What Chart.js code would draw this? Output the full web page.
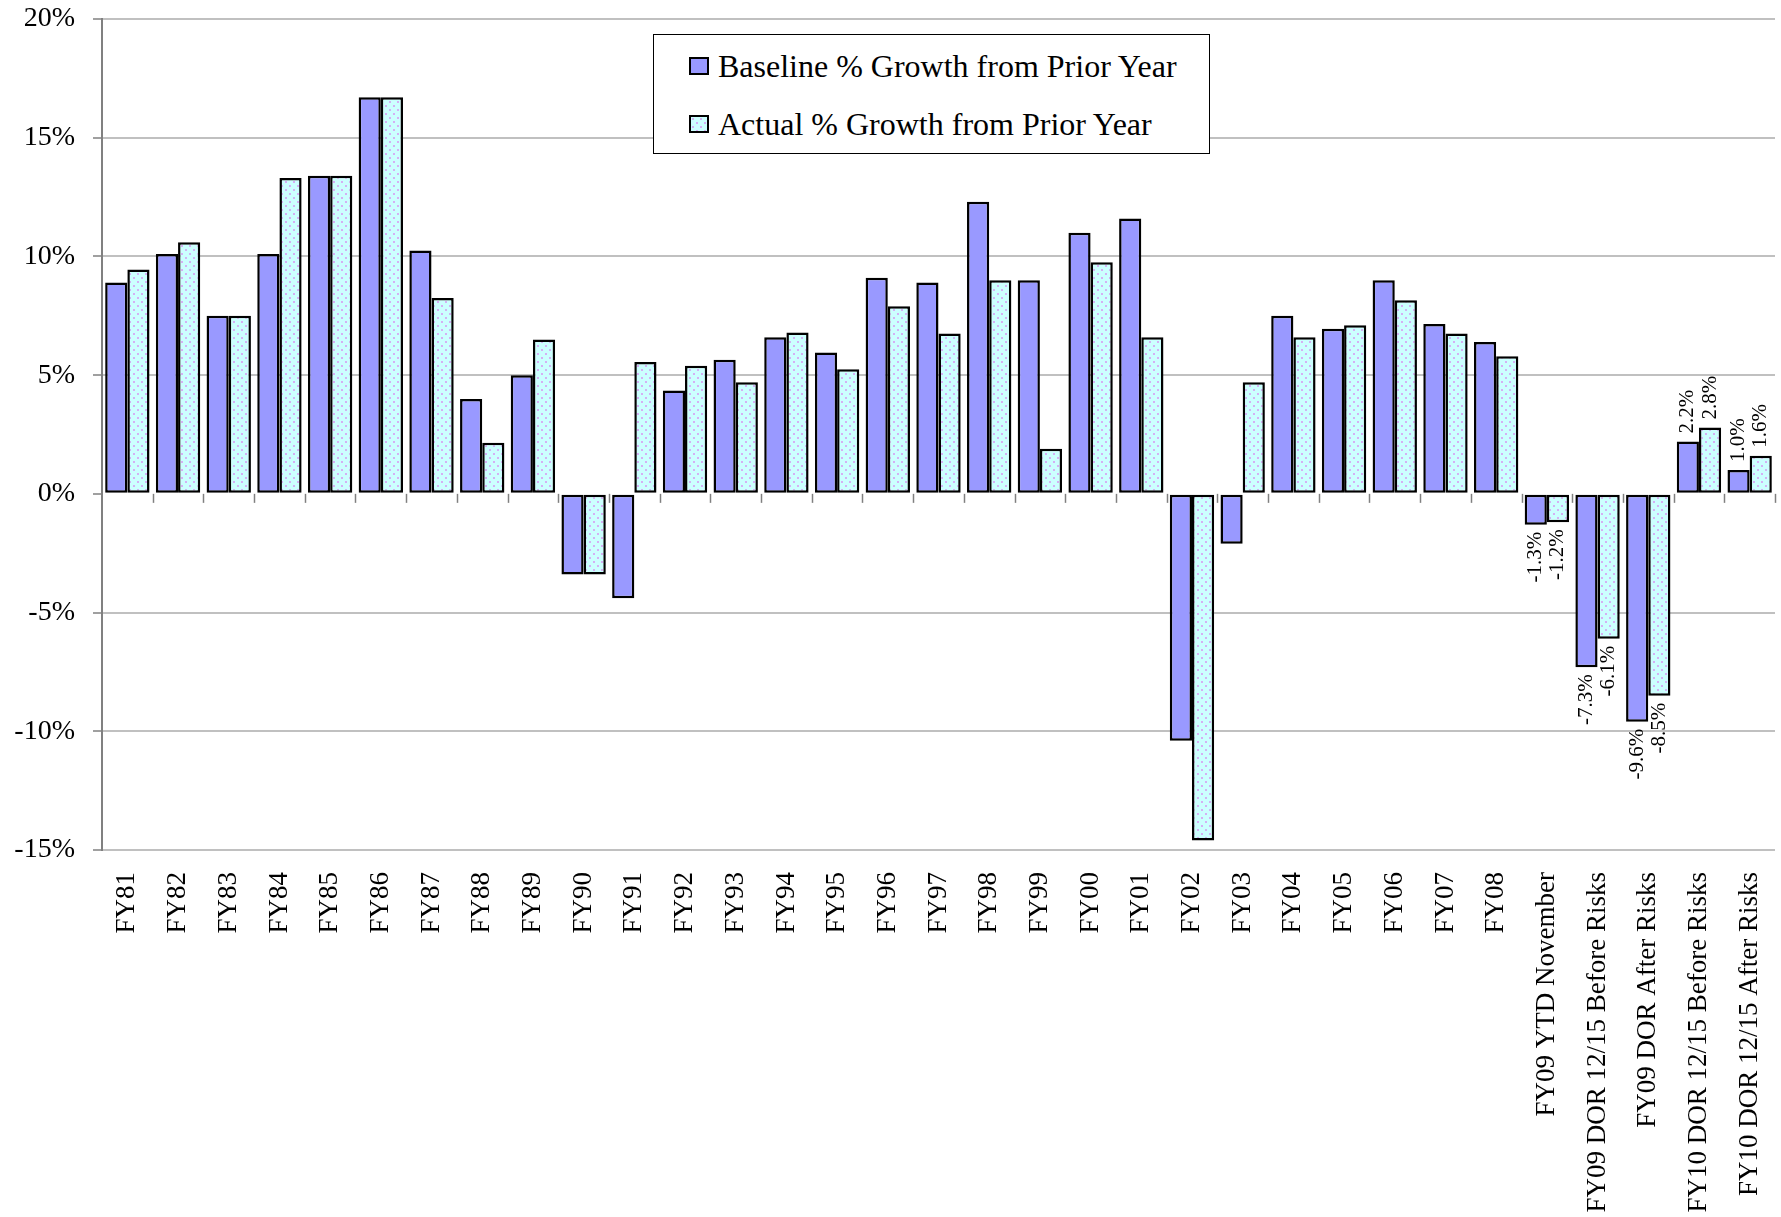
<!DOCTYPE html>
<html>
<head>
<meta charset="utf-8">
<script src="https://cdn.jsdelivr.net/npm/chart.js@4/dist/chart.umd.min.js"></script>
<style>
html,body{margin:0;padding:0;background:#fff;}
#wrap{position:relative;width:1781px;height:1217px;}
#legend{position:absolute;left:653px;top:34px;width:555px;height:118px;border:1px solid #000;background:#fff;font-family:"Liberation Serif","Times New Roman",serif;font-size:32px;color:#000;}
.item{position:absolute;left:35px;height:36px;line-height:36px;display:flex;align-items:center;white-space:nowrap;}
.sw{width:16px;height:14px;border:2px solid #000;margin-right:9px;box-sizing:content-box;}
</style>
</head>
<body>
<div id="wrap">
<canvas id="c" width="1781" height="1217"></canvas>
<div id="legend"></div>
</div>
<script>
const categories = ['FY81','FY82','FY83','FY84','FY85','FY86','FY87','FY88','FY89','FY90','FY91','FY92','FY93','FY94','FY95','FY96','FY97','FY98','FY99','FY00','FY01','FY02','FY03','FY04','FY05','FY06','FY07','FY08','FY09 YTD November','FY09 DOR 12/15 Before Risks','FY09 DOR After Risks','FY10 DOR 12/15 Before Risks','FY10 DOR 12/15 After Risks'];
const baselineGrowth = [8.9,10.1,7.5,10.1,13.4,16.7,10.25,4.0,5.0,-3.4,-4.4,4.35,5.65,6.6,5.95,9.1,8.9,12.3,9.0,11.0,11.6,-10.4,-2.1,7.5,6.95,9.0,7.15,6.4,-1.3,-7.3,-9.6,2.2,1.0];
const actualGrowth = [9.45,10.6,7.5,13.3,13.4,16.7,8.25,2.15,6.5,-3.4,5.55,5.4,4.7,6.8,5.25,7.9,6.75,9.0,1.9,9.75,6.6,-14.6,4.7,6.6,7.1,8.15,6.75,5.8,-1.2,-6.1,-8.5,2.8,1.6];
const seriesNames = ['Baseline % Growth from Prior Year','Actual % Growth from Prior Year'];
const yTicks = [-15,-10,-5,0,5,10,15,20];
const labeledCategories = ['FY09 YTD November','FY09 DOR 12/15 Before Risks','FY09 DOR After Risks','FY10 DOR 12/15 Before Risks','FY10 DOR 12/15 After Risks'];

const SERIF = '"Liberation Serif","Times New Roman",serif';

// dotted pattern for actual series
const tile = document.createElement('canvas');
tile.width = 8; tile.height = 8;
const tctx = tile.getContext('2d');
tctx.fillStyle = '#ccffff'; tctx.fillRect(0,0,8,8);
tctx.fillStyle = '#d4b0f4';
tctx.fillRect(1,1,2,2); tctx.fillRect(5,5,2,2);
const ctx = document.getElementById('c').getContext('2d');
const dotPattern = ctx.createPattern(tile, 'repeat');

const fills = ['#9999ff', dotPattern];

// legend
const legend = document.getElementById('legend');
seriesNames.forEach((name, i) => {
  const it = document.createElement('div');
  it.className = 'item';
  it.style.top = (i === 0 ? 13 : 71) + 'px';
  const sw = document.createElement('span');
  sw.className = 'sw';
  if (i === 0) sw.style.background = '#9999ff';
  else { sw.style.backgroundColor = '#ccffff'; sw.style.backgroundImage = 'url(' + tile.toDataURL() + ')'; }
  const tx = document.createElement('span');
  tx.textContent = name;
  it.appendChild(sw); it.appendChild(tx);
  legend.appendChild(it);
});

const zeroTicks = {
  id: 'zeroTicks',
  beforeDatasetsDraw(chart) {
    const x = chart.scales.x, y = chart.scales.y, c = chart.ctx;
    const y0 = y.getPixelForValue(0);
    c.save();
    c.strokeStyle = '#808080'; c.lineWidth = 1.5;
    for (let i = 0; i < categories.length; i++) {
      let bx = (i < categories.length - 1) ? (x.getPixelForValue(i) + x.getPixelForValue(i + 1)) / 2 : chart.chartArea.right;
      bx = Math.round(bx) + 0.5;
      c.beginPath(); c.moveTo(bx, y0); c.lineTo(bx, y0 + 9); c.stroke();
    }
    c.restore();
  }
};

const valueLabels = {
  id: 'valueLabels',
  afterDatasetsDraw(chart) {
    const c = chart.ctx;
    c.save();
    c.font = '21px ' + SERIF;
    c.fillStyle = '#000';
    c.textBaseline = 'middle';
    chart.data.datasets.forEach((ds, di) => {
      const meta = chart.getDatasetMeta(di);
      meta.data.forEach((bar, idx) => {
        if (!labeledCategories.includes(categories[idx])) return;
        const v = ds.data[idx];
        const txt = v.toFixed(1) + '%';
        c.save();
        if (v < 0) {
          c.translate(bar.x, bar.y + 7);
          c.rotate(-Math.PI / 2);
          c.textAlign = 'right';
        } else {
          c.translate(bar.x, bar.y - 8);
          c.rotate(-Math.PI / 2);
          c.textAlign = 'left';
        }
        c.fillText(txt, 0, 0);
        c.restore();
      });
    });
    c.restore();
  }
};

new Chart(ctx, {
  type: 'bar',
  data: {
    labels: categories,
    datasets: [
      { label: seriesNames[0], data: baselineGrowth, backgroundColor: fills[0], borderColor: '#000', borderWidth: 2.5, borderSkipped: false, categoryPercentage: 0.875, barPercentage: 1.0 },
      { label: seriesNames[1], data: actualGrowth, backgroundColor: fills[1], borderColor: '#000', borderWidth: 2.5, borderSkipped: false, categoryPercentage: 0.875, barPercentage: 1.0 }
    ]
  },
  options: {
    responsive: false,
    devicePixelRatio: 1,
    animation: false,
    layout: { padding: { top: 19, right: 6, left: 0, bottom: 0 } },
    plugins: { legend: { display: false }, tooltip: { enabled: false } },
    scales: {
      x: {
        grid: { display: false, drawTicks: false },
        border: { display: false },
        ticks: { autoSkip: false, maxRotation: 90, minRotation: 90, padding: 22, color: '#000', font: { family: SERIF, size: 27 } },
        afterFit(s) { s.height = 367; s.paddingLeft = 0; s.paddingRight = 0; }
      },
      y: {
        min: -15, max: 20,
        afterBuildTicks(s) { s.ticks = yTicks.map(v => ({ value: v })); },
        grid: {
          color: (c) => (c.tick && c.tick.value === 0) ? 'rgba(0,0,0,0)' : '#c0c0c0',
          lineWidth: 2,
          tickLength: 9,
          tickColor: '#808080',
          tickWidth: 1.5
        },
        border: { color: '#808080', width: 2 },
        ticks: { padding: 18, color: '#000', font: { family: SERIF, size: 28 }, callback: (v) => v + '%' },
        afterFit(s) { s.width = 102; s.paddingTop = 0; s.paddingBottom = 0; }
      }
    }
  },
  plugins: [zeroTicks, valueLabels]
});
</script>
</body>
</html>
